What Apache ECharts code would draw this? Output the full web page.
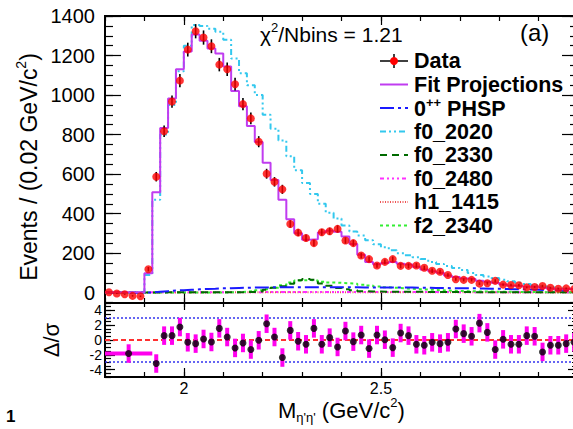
<!DOCTYPE html>
<html><head><meta charset="utf-8">
<script src="https://cdn.jsdelivr.net/npm/echarts@6/dist/echarts.min.js"></script>
<style>html,body{margin:0;padding:0;background:#fff}#c{width:573px;height:429px}</style>
</head><body><div id="c"></div>
<script>
// ---- binning (60 bins of 0.02 GeV/c^2 from 1.80 to 3.00) ----
const X_MIN = 1.8, X_MAX = 3.0, BIN_W = 0.02;

// ---- data (events per bin) ----
const dataVals = [2,-4,-8,-16,-18,119,587,817,967,1073,
  1230,1323,1291,1247,1154,1131,1055,954,882,764,
  602,561,523,348,304,277,251,306,311,323,
  264,251,188,170,138,156,170,136,136,138,
  126,111,106,90,68,65,65,46,48,60,
  41,39,38,27,29,34,25,20,22,18];
const dataErr = [1,2,3,4,4,11,24,29,31,33,
  35,36,36,35,34,34,32,31,30,28,
  25,24,23,19,17,17,16,17,18,18,
  16,16,14,13,12,12,13,12,12,12,
  11,11,10,9,8,8,8,7,7,8,
  6,6,6,5,5,6,5,4,5,4];
// ---- fit projection ----
const fitVals = [2,2,2,2,2,99,508,833,983,1131,
  1220,1306,1275,1235,1210,1145,1020,943,843,762,
  657,570,470,372,301,268,270,305,314,308,
  285,246,192,156,144,150,156,147,143,131,
  118,108,101,87,80,72,69,61,55,50,
  42,35,34,30,32,25,21,17,20,17];
// ---- components ----
const phspVals = [0,0,0,0,0,2,5,8,11,13,
  15,17,19,20,22,23,24,25,26,27,
  27,28,28,28,28,28,28,28,28,28,
  28,28,27,27,27,27,26,26,26,25,
  25,24,24,23,23,22,22,21,20,20,
  19,18,17,16,15,14,14,13,12,12];
const f02020Vals = [0,0,0,0,0,90,470,800,950,1120,
  1250,1355,1350,1335,1320,1280,1185,1110,1050,1000,
  900,830,770,690,620,555,500,450,405,375,
  340,310,290,265,245,230,215,200,190,180,
  170,155,145,135,125,115,100,90,82,75,
  65,58,50,44,38,33,28,24,20,17];
const f02330Vals = [1,1,1,1,1,1,1,2,2,2,
  2,2,2,2,3,3,3,3,4,6,
  15,25,33,45,63,70,65,47,35,24,
  18,12,8,6,6,5,5,5,5,5,
  4,4,4,4,4,4,3,3,3,3,
  3,3,3,3,2,2,2,2,2,2];
const f02480Vals = [0,0,0,0,0,2,3,3,3,3,
  3,3,3,3,3,3,3,3,3,3,
  4,4,4,4,4,4,4,4,4,4,
  4,4,4,4,4,4,4,4,4,4,
  4,4,4,4,3,3,3,3,3,3,
  3,3,3,3,3,3,3,3,3,3];
const h11415Vals = [0,0,0,0,0,1,1,1,1,1,
  1,1,1,2,2,2,2,2,2,2,
  2,2,2,2,2,2,2,2,2,2,
  2,2,2,2,2,2,2,2,2,2,
  2,2,2,2,2,2,2,2,2,2,
  1,1,1,1,1,1,1,1,1,1];
const f22340Vals = [1,1,1,1,1,1,1,1,1,1,
  1,1,1,1,1,2,3,5,8,12,
  18,25,38,52,62,64,62,56,52,50,
  48,45,40,36,32,28,25,22,20,18,
  16,14,12,10,9,8,7,6,6,5,
  5,4,4,4,3,3,3,3,2,2];
// ---- residuals (fit - data)/sigma ----
const residMergedRange = [1.80, 1.92];
const residMergedVal = -1.83;
const residStartBin = 7;  // bins 7..60
const residVals = [-3.18,0.59,0.59,1.75,-0.31,-0.49,0.14,-0.27,1.57,0.40,
  -1.07,-0.40,-1.29,-0.04,2.20,0.40,-2.37,1.30,-0.17,-0.58,
  1.57,-0.58,0.32,-0.94,1.21,-0.22,0.67,-1.16,0.67,0.04,
  -1.03,0.94,0.59,-0.58,-0.71,-0.31,-0.49,-0.31,1.48,0.86,
  0.50,2.28,1.03,-1.29,0.09,-0.58,-0.58,0.59,0.50,-1.61,
  -0.71,-0.71,-0.49,-0.30];
const resErr = 1.25;

// ---- tick labels ----
const yMainLabels = [0,200,400,600,800,1000,1200,1400];
const yResLabels = [-4,-2,0,2,4];
const xMajorTicks = [2, 2.5, 3];
const xLabels = [2, 2.5];

const FONT = '"Liberation Sans", Arial, Helvetica, sans-serif';
const minorX = []; for (let i = 0; i <= 12; i++) minorX.push(+(X_MIN + i * 0.1).toFixed(1));
const minorY = []; for (let v = -50; v <= 1400; v += 50) minorY.push(v);
const resMinorY = []; for (let v = -5; v <= 5.001; v += 0.5) resMinorY.push(+v.toFixed(1));

function edges(vals) {
  const pts = vals.map((v, i) => [+(X_MIN + i * BIN_W).toFixed(4), v]);
  pts.push([X_MAX, vals[vals.length - 1]]);
  return pts;
}
function center(i) { return +(X_MIN + (i + 0.5) * BIN_W).toFixed(4); }
const plain = v => String(v);

function xAx(grid, pos, ticks, len, labels) {
  return {type: 'value', gridIndex: grid, position: pos, min: X_MIN, max: X_MAX,
    axisLine: {show: true, onZero: false, lineStyle: {color: '#000', width: 2}},
    axisTick: {show: true, inside: true, length: len, customValues: ticks, lineStyle: {color: '#000', width: 1.2}},
    axisLabel: labels ? {show: true, customValues: labels, formatter: plain, fontSize: 16, color: '#000', fontFamily: FONT, margin: 3} : {show: false},
    splitLine: {show: false}};
}
function yAx(grid, pos, min, max, ticks, len, labels, fs, margin) {
  return {type: 'value', gridIndex: grid, position: pos, min: min, max: max,
    axisLine: {show: true, onZero: false, lineStyle: {color: '#000', width: 2}},
    axisTick: {show: true, inside: true, length: len, customValues: ticks, lineStyle: {color: '#000', width: 1.2}},
    axisLabel: labels ? {show: true, customValues: labels, formatter: plain, fontSize: fs, color: '#000', fontFamily: FONT, margin: margin} : {show: false},
    splitLine: {show: false}};
}

function hist(name, vals, color, width, dash, z) {
  return {type: 'line', name: name, xAxisIndex: 0, yAxisIndex: 0, data: edges(vals), step: 'end',
    symbol: 'none', lineStyle: {color: color, width: width, type: dash}, z: z, silent: true, animation: false};
}

const C = {
  fit: '#c03cf0', phsp: '#1a1aff', f2020: '#33c8ee', f2330: '#006a00',
  f2480: '#ff30ff', h1: '#ee5555', f2: '#33ee33'
};
const D = {
  phsp: [14, 4, 3, 4], f2020: [6, 3, 2, 3, 2, 3], f2330: [7, 5],
  f2480: [4, 3, 2, 3, 2, 3, 2, 3], h1: [1, 1.5], f2: [3, 3]
};

const dataPts = dataVals.map((v, i) => [center(i), v, dataErr[i]]);
const residPts = [[(residMergedRange[0] + residMergedRange[1]) / 2, residMergedVal, residMergedRange[0], residMergedRange[1]]]
  .concat(residVals.map((v, i) => { const c = center(residStartBin - 1 + i); return [c, v, c, c]; }));

const chart = echarts.init(document.getElementById('c'), null, {renderer: 'svg'});

// legend
const LX1 = 380, LX2 = 408, LT = 414, LY0 = 61, LDY = 23.5;
const legendItems = [
  {text: 'Data'}, {text: 'Fit Projections', color: C.fit, dash: null},
  {rich: true, color: C.phsp, dash: D.phsp}, {text: 'f0_2020', color: C.f2020, dash: D.f2020},
  {text: 'f0_2330', color: C.f2330, dash: D.f2330}, {text: 'f0_2480', color: C.f2480, dash: D.f2480},
  {text: 'h1_1415', color: C.h1, dash: D.h1}, {text: 'f2_2340', color: C.f2, dash: D.f2}
];
const LFS = 21.5;
const graphics = [];
legendItems.forEach((it, k) => {
  const y = LY0 + k * LDY;
  if (k === 0) {
    graphics.push({type: 'line', shape: {x1: LX1, y1: y, x2: LX2, y2: y}, style: {stroke: '#000', lineWidth: 1.5}});
    graphics.push({type: 'line', shape: {x1: 394, y1: y - 7, x2: 394, y2: y + 7}, style: {stroke: '#000', lineWidth: 1.5}});
    graphics.push({type: 'circle', shape: {cx: 394, cy: y, r: 4}, style: {fill: '#ff0000'}});
  } else {
    graphics.push({type: 'line', shape: {x1: LX1, y1: y, x2: LX2, y2: y}, style: {stroke: it.color, lineWidth: 2, lineDash: it.dash || null}});
  }
  if (it.rich) {
    graphics.push({type: 'text', x: LT, y: y, style: {text: '{a|0}{s|++}{a| PHSP}', verticalAlign: 'middle', align: 'left',
      rich: {a: {fontSize: LFS, fontWeight: 'bold', fontFamily: FONT, fill: '#000', lineHeight: 24, verticalAlign: 'bottom'},
             s: {fontSize: 13, fontWeight: 'bold', fontFamily: FONT, fill: '#000', lineHeight: 13, verticalAlign: 'top'}}}});
  } else {
    graphics.push({type: 'text', x: LT, y: y, style: {text: it.text, fontSize: LFS, fontWeight: 'bold', fontFamily: FONT, fill: '#000', verticalAlign: 'middle', align: 'left'}});
  }
});
// chi2 and panel label
graphics.push({type: 'text', x: 260, y: 33, style: {text: '{a|χ}{s|2}{a|/Nbins = 1.21}', verticalAlign: 'middle', align: 'left',
  rich: {a: {fontSize: 21, fontFamily: FONT, fill: '#000', lineHeight: 24, verticalAlign: 'bottom'},
         s: {fontSize: 13, fontFamily: FONT, fill: '#000', lineHeight: 13, verticalAlign: 'top'}}}});
graphics.push({type: 'text', x: 520, y: 32, style: {text: '(a)', fontSize: 24, fontFamily: FONT, fill: '#000', verticalAlign: 'middle', align: 'left'}});
// axis titles
graphics.push({type: 'text', x: 27, y: 167, rotation: Math.PI / 2, style: {text: '{a|Events / (0.02 GeV/c}{s|2}{a|)}', verticalAlign: 'middle', align: 'center',
  rich: {a: {fontSize: 23, fontFamily: FONT, fill: '#000', lineHeight: 27, verticalAlign: 'bottom'},
         s: {fontSize: 14, fontFamily: FONT, fill: '#000', lineHeight: 14, verticalAlign: 'top'}}}});
graphics.push({type: 'text', x: 51, y: 340, rotation: Math.PI / 2, style: {text: 'Δ/σ', fontSize: 22, fontFamily: FONT, fill: '#000', verticalAlign: 'middle', align: 'center'}});
graphics.push({type: 'text', x: 278, y: 410, style: {text: "{a|M}{b|η'η'}{a| (GeV/c}{s|2}{a|)}", verticalAlign: 'middle', align: 'left',
  rich: {a: {fontSize: 22, fontFamily: FONT, fill: '#000', lineHeight: 28, verticalAlign: 'middle'},
         b: {fontSize: 13, fontFamily: FONT, fill: '#000', lineHeight: 13, verticalAlign: 'bottom'},
         s: {fontSize: 13, fontFamily: FONT, fill: '#000', lineHeight: 13, verticalAlign: 'top'}}}});
graphics.push({type: 'text', x: 6, y: 425, style: {text: '1', fontSize: 17, fontWeight: 'bold', fontFamily: FONT, fill: '#000', verticalAlign: 'bottom', align: 'left'}});

const option = {
  animation: false,
  backgroundColor: '#fff',
  grid: [
    {left: 105, top: 16, width: 473, height: 287, outerBoundsMode: 'none', containLabel: false},
    {left: 105, top: 303, width: 473, height: 74, outerBoundsMode: 'none', containLabel: false}
  ],
  xAxis: [
    xAx(0, 'bottom', minorX, 5, null), xAx(0, 'bottom', xMajorTicks, 10, null),
    xAx(0, 'top', minorX, 5, null), xAx(0, 'top', xMajorTicks, 9, null),
    xAx(1, 'bottom', minorX, 5, null), xAx(1, 'bottom', xMajorTicks, 9, xLabels),
    xAx(1, 'top', minorX, 4, null), xAx(1, 'top', xMajorTicks, 7, null)
  ],
  yAxis: [
    yAx(0, 'left', -52, 1400, yMainLabels, 16, yMainLabels, 20, 10), yAx(0, 'left', -52, 1400, minorY, 8, null),
    yAx(0, 'right', -52, 1400, yMainLabels, 16, null), yAx(0, 'right', -52, 1400, minorY, 8, null),
    yAx(1, 'left', -5, 5, yResLabels, 10, yResLabels, 14, 3), yAx(1, 'left', -5, 5, resMinorY, 6, null),
    yAx(1, 'right', -5, 5, yResLabels, 10, null), yAx(1, 'right', -5, 5, resMinorY, 6, null)
  ],
  graphic: graphics,
  series: [
    hist('h1_1415', h11415Vals, C.h1, 2, D.h1, 2),
    hist('f0_2480', f02480Vals, C.f2480, 2, D.f2480, 2),
    hist('f2_2340', f22340Vals, C.f2, 2, D.f2, 2),
    hist('f0_2330', f02330Vals, C.f2330, 2, D.f2330, 2),
    hist('0++ PHSP', phspVals, C.phsp, 2, D.phsp, 2),
    hist('f0_2020', f02020Vals, C.f2020, 2, D.f2020, 2),
    hist('Fit Projections', fitVals, C.fit, 2, 'solid', 3),
    {type: 'custom', name: 'DataErr', xAxisIndex: 0, yAxisIndex: 0, data: dataPts, encode: {x: 0, y: 1}, z: 5, silent: true,
      renderItem: function (params, api) {
        const x = api.value(0), y = api.value(1), e = api.value(2);
        const p1 = api.coord([x, y - e]), p2 = api.coord([x, y + e]);
        return {type: 'line', shape: {x1: p1[0], y1: p1[1], x2: p2[0], y2: p2[1]}, style: {stroke: '#000', lineWidth: 1.6}};
      }},
    {type: 'scatter', name: 'Data', xAxisIndex: 0, yAxisIndex: 0, data: dataPts.map(p => [p[0], p[1]]),
      symbol: 'circle', symbolSize: 8, itemStyle: {color: '#ff0000'}, z: 6, silent: true},
    // residual panel
    {type: 'custom', name: 'ResErr', xAxisIndex: 4, yAxisIndex: 4, data: residPts, encode: {x: 0, y: 1}, z: 5, silent: true,
      renderItem: function (params, api) {
        const x = api.value(0), y = api.value(1), lo = api.value(2), hi = api.value(3);
        const a = api.coord([x, y - resErr]), b = api.coord([x, y + resErr]);
        const children = [{type: 'line', shape: {x1: a[0], y1: a[1], x2: b[0], y2: b[1]}, style: {stroke: '#ff00ee', lineWidth: 4}}];
        if (hi > lo) {
          const l = api.coord([lo, y]), r = api.coord([hi, y]);
          children.push({type: 'line', shape: {x1: l[0], y1: l[1], x2: r[0], y2: r[1]}, style: {stroke: '#ff00ee', lineWidth: 4}});
        }
        return {type: 'group', children: children};
      },
      markLine: {silent: true, symbol: 'none', label: {show: false}, animation: false,
        data: [
          {yAxis: 0, lineStyle: {color: '#ff3030', type: [5, 3], width: 2}},
          {yAxis: 3, lineStyle: {color: '#3333ee', type: [2, 2], width: 1.5}},
          {yAxis: -3, lineStyle: {color: '#3333ee', type: [2, 2], width: 1.5}}
        ]}},
    {type: 'scatter', name: 'Resid', xAxisIndex: 4, yAxisIndex: 4, data: residPts.map(p => [p[0], p[1]]),
      symbol: 'circle', symbolSize: 7, itemStyle: {color: '#000'}, z: 6, silent: true}
  ]
};
chart.setOption(option);
</script>
</body></html>
